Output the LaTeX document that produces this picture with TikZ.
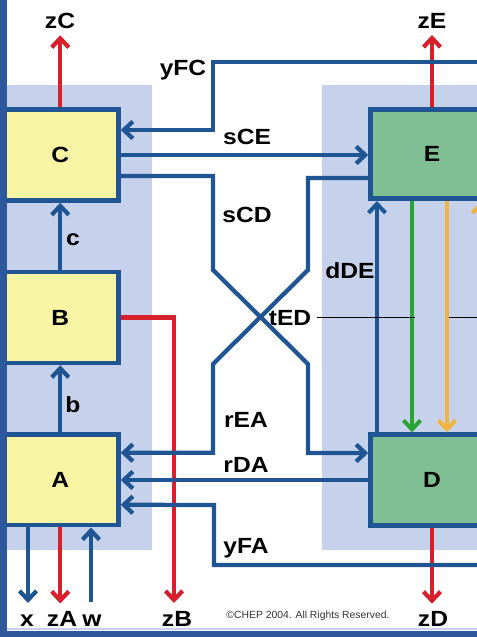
\documentclass[tikz,border=0pt]{standalone}
\usepackage{fontspec}
\setmainfont[FakeStretch=1.12]{Liberation Sans}
\newfontfamily\notefont{Liberation Sans}
\usepackage{tikz}
\usetikzlibrary{arrows.meta,calc,positioning}
\definecolor{barblue}{RGB}{46,88,156}
\definecolor{lineblue}{RGB}{31,85,147}
\definecolor{panel}{RGB}{198,209,235}
\definecolor{boxyellow}{RGB}{247,244,163}
\definecolor{boxgreen}{RGB}{128,191,147}
\definecolor{outred}{RGB}{215,32,43}
\definecolor{arrgreen}{RGB}{42,163,50}
\definecolor{arrorange}{RGB}{242,180,64}

\begin{document}
\begin{tikzpicture}[x=0.02cm,y=-0.02cm,font=\bfseries\fontsize{12.5}{14}\selectfont,
  >={Straight Barb[length=0.18cm,width=0.34cm]},
  blk/.style={draw=lineblue,line width=0.09cm,inner sep=0,minimum width=2.33cm,minimum height=1.82cm,fill=boxyellow},
  sig/.style={draw=lineblue,line width=0.085cm},
  outsig/.style={draw=outred,line width=0.085cm},
  lbl/.style={anchor=base,inner sep=0}]
\useasboundingbox (0,0) rectangle (477,637);
\clip (0,0) rectangle (477,637);
\fill[panel] (0,85) rectangle (152,550);
\fill[panel] (322,85) rectangle (490,550);
\node[blk] (C) at (60.25,155) {C};
\node[blk] (B) at (60.25,317.5) {B};
\node[blk] (A) at (60.25,479.75) {A};
\node[blk,fill=boxgreen,minimum width=2.46cm,minimum height=1.79cm] (E) at (432,154) {E};
\node[blk,fill=boxgreen,minimum width=2.46cm] (D) at (432,480) {D};
\coordinate (yfc) at (490,62);
\coordinate (yfa) at (490,565);
\coordinate (xo) at (28,603);
\coordinate (wi) at (91,602);
\draw[outsig,->] (C.north) -- ++(0,-72);
\draw[outsig,->] (E.north) -- ++(0,-72);
\draw[outsig,->] (A.south) -- ++(0,76);
\draw[outsig,->] (D.south) -- ++(0,76);
\draw[outsig,->] (B.east) -| (174,603);
\draw[sig,->] (A.south -| xo) -- (xo);
\draw[sig,->] (wi) -- (wi |- A.south);
\draw[sig,->] (B.north) -- (C.south);
\draw[sig,->] (A.north) -- (B.south);
\draw[sig,->] (yfc) -| (213,130) -- ($(C.east)+(0,-25)$);
\draw[sig,->] (C.east) -- (C.east -| E.west);
\draw[sig,->] ($(C.east)+(0,21)$) -| (213,270) -- (308,364) |- ($(D.west)+(0,-27)$);
\draw[sig,->] ($(E.west)+(0,24)$) -| (308,270) -- (213,364) |- ($(A.east)+(0,-27)$);
\draw[sig,->] (D.west) -- (D.west -| A.east);
\draw[sig,->] (yfa) -| (214,505) -- ($(A.east)+(0,25)$);
\foreach \xx/\col/\dir in {377/lineblue/<-,412/arrgreen/->,447/arrorange/->,481/arrorange/<-}{
  \draw[line width=0.08cm,\col,\dir] (E.south -| \xx,0) -- (D.north -| \xx,0);}
\node[lbl] (lzC) at (60,28) {zC};
\node[lbl] (lzE) at (432,28) {zE};
\node[lbl] (lyFC) at (183,75) {yFC};
\node[lbl] (lsCE) at (247,144) {sCE};
\node[lbl] (lsCD) at (247,222) {sCD};
\node[lbl] (lc) at (73,245) {c};
\node[lbl] (ldDE) at (350,278) {dDE};
\node[lbl] (tED) at (290,325) {tED};
\node[lbl] (lb) at (73,412) {b};
\node[lbl] (lrEA) at (246,427) {rEA};
\node[lbl] (lrDA) at (246,472) {rDA};
\node[lbl] (lyFA) at (246,553) {yFA};
\foreach \xx/\txt in {27/x,62/zA,92/w,177/zB,433/zD}{
  \node[lbl] (l\txt) at (\xx,626) {\txt};}
\node[lbl,font=\notefont\fontsize{5.9}{7}\selectfont,text=black!80] (copy) at (308,618) {\textcopyright CHEP 2004. All Rights Reserved.};
\draw[line width=0.5pt] ($(tED.east)+(5,0)$) -- ($(tED.east)+(103,0)$);
\draw[line width=0.5pt] ($(tED.east)+(137,0)$) -- ++(60,0);
\fill[barblue] (0,0) rectangle (7,631);
\draw[panel,line width=0.04cm] (7,629) -- (477,629);
\fill[barblue] (0,631) rectangle (477,637);
\end{tikzpicture}
\end{document}
